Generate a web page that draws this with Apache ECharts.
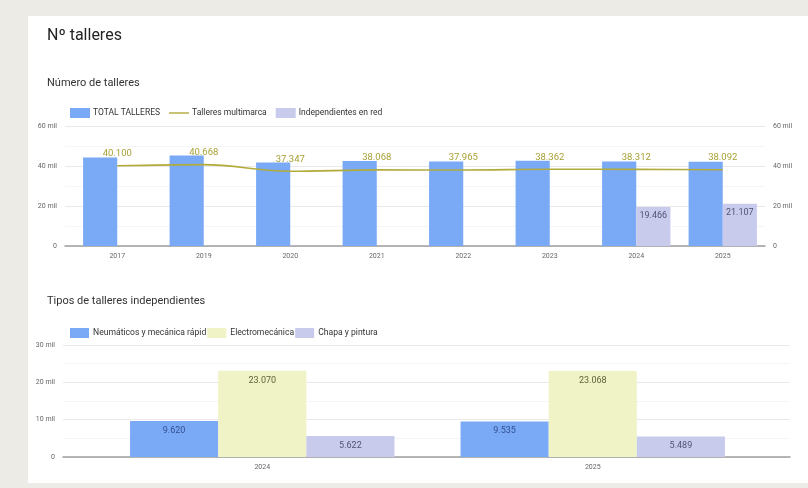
<!DOCTYPE html>
<html>
<head>
<meta charset="utf-8">
<script src="https://cdn.jsdelivr.net/npm/echarts@6/dist/echarts.min.js"></script>
<style>
  html, body { margin: 0; padding: 0; background: #ecebe6; }
  #chart { width: 808px; height: 488px; }
</style>
</head>
<body>
<div id="chart"></div>
<script>
// Número de talleres
const years = ['2017', '2019', '2020', '2021', '2022', '2023', '2024', '2025'];
const totalTalleres = [44200, 45200, 41700, 42500, 42300, 42600, 42300, 42100];
const talleresMultimarca = [40100, 40668, 37347, 38068, 37965, 38362, 38312, 38092];
const independientesRed = [null, null, null, null, null, null, 19466, 21107];

// Tipos de talleres independientes
const tipoYears = ['2024', '2025'];
const neumaticos = [9620, 9535];
const electromecanica = [23070, 23068];
const chapaPintura = [5622, 5489];

const topTicks = { min: 0, max: 60000, interval: 20000 };
const bottomTicks = { min: 0, max: 30000, interval: 10000 };

const BLUE = '#7aa9f6';
const LAVENDER = '#c8cbec';
const YELLOW = '#eff3c5';
const OLIVE = '#b2ab3a';
const FONT = 'Roboto, "Noto Sans", sans-serif';

const fmtMil = v => (v === 0 ? '0' : (v / 1000) + ' mil');
const fmtNum = v => {
  const n = typeof v === 'object' ? v.value : v;
  return String(Math.round(n)).replace(/\B(?=(\d{3})+(?!\d))/g, '.');
};

const tickLabel = { fontSize: 7, color: '#666', fontFamily: FONT };

function valueAxisBackground(gridIndex, ticks, position, withLines) {
  return {
    type: 'value', gridIndex: gridIndex, position: position,
    min: ticks.min, max: ticks.max, interval: ticks.interval,
    axisLine: { show: false }, axisTick: { show: false },
    axisLabel: Object.assign({ formatter: fmtMil, margin: 8 }, tickLabel),
    splitLine: { show: withLines, lineStyle: { color: '#e9e9e9', width: 1 } },
    minorTick: { show: false, splitNumber: 2 },
    minorSplitLine: { show: withLines, lineStyle: { color: '#f5f5f5', width: 1 } }
  };
}
function hiddenValueAxis(gridIndex, ticks) {
  return {
    type: 'value', gridIndex: gridIndex,
    min: ticks.min, max: ticks.max, interval: ticks.interval,
    show: false, splitLine: { show: false }
  };
}
function baselineAxis(gridIndex) {
  return {
    type: 'value', gridIndex: gridIndex, min: 0, max: 1,
    axisLine: { show: true, lineStyle: { color: '#9e9e9e', width: 1.5 } },
    axisTick: { show: false }, axisLabel: { show: false }, splitLine: { show: false }
  };
}
function categoryAxis(gridIndex, data) {
  return {
    type: 'category', gridIndex: gridIndex, data: data,
    axisLine: { show: false }, axisTick: { show: false },
    axisLabel: Object.assign({ margin: 7 }, tickLabel)
  };
}

const chart = echarts.init(document.getElementById('chart'), null, { renderer: 'canvas' });

chart.setOption({
  backgroundColor: 'transparent',
  animation: false,
  textStyle: { fontFamily: FONT },
  graphic: [
    { type: 'rect', z: -10, shape: { x: 28, y: 16, width: 780, height: 467 },
      style: { fill: '#ffffff' } }
  ],
  title: [
    { text: 'Nº talleres', left: 42, top: 23,
      textStyle: { fontSize: 16, fontWeight: 'normal', color: '#222', fontFamily: FONT } },
    { text: 'Número de talleres', left: 42, top: 73,
      textStyle: { fontSize: 11, fontWeight: 'normal', color: '#333', fontFamily: FONT } },
    { text: 'Tipos de talleres independientes', left: 42, top: 291,
      textStyle: { fontSize: 11, fontWeight: 'normal', color: '#333', fontFamily: FONT } }
  ],
  legend: [
    {
      left: 65, top: 103, itemWidth: 20, itemHeight: 10, itemGap: 9,
      textStyle: { fontSize: 8.5, color: '#333', fontFamily: FONT, padding: [0, 0, 0, -2] },
      data: [
        { name: 'TOTAL TALLERES', icon: 'rect' },
        { name: 'Talleres multimarca', icon: 'path://M0,4.3 H20 V5.7 H0 Z' },
        { name: 'Independientes en red', icon: 'rect' }
      ]
    },
    {
      left: 65, top: 323, itemWidth: 19, itemHeight: 10, itemGap: 1,
      textStyle: { fontSize: 8.6, color: '#333', fontFamily: FONT, padding: [0, 0, 0, -1] },
      data: [
        { name: 'Neumáticos y mecánica rápid', icon: 'rect' },
        { name: 'Electromecánica', icon: 'rect' },
        { name: 'Chapa y pintura', icon: 'rect' }
      ]
    }
  ],
  grid: [
    { left: 65, right: 43, top: 126, height: 120 },   // 0: top gridlines + axes
    { left: 74, right: 42, top: 126, height: 120 },   // 1: top marks
    { left: 63, right: 18, top: 345, height: 112 },   // 2: bottom gridlines + axis
    { left: 97, right: 50, top: 345, height: 112 }    // 3: bottom marks
  ],
  xAxis: [
    baselineAxis(0),
    categoryAxis(1, years),
    baselineAxis(2),
    categoryAxis(3, tipoYears)
  ],
  yAxis: [
    valueAxisBackground(0, topTicks, 'left', true),     // 0
    valueAxisBackground(0, topTicks, 'right', false),   // 1
    hiddenValueAxis(1, topTicks),                        // 2
    valueAxisBackground(2, bottomTicks, 'left', true),  // 3
    hiddenValueAxis(3, bottomTicks)                      // 4
  ],
  series: [
    {
      name: 'TOTAL TALLERES', type: 'bar', xAxisIndex: 1, yAxisIndex: 2,
      data: totalTalleres, barGap: '0%', barCategoryGap: '21%',
      itemStyle: { color: BLUE }
    },
    {
      name: 'Independientes en red', type: 'bar', xAxisIndex: 1, yAxisIndex: 2,
      data: independientesRed, barGap: '0%', barCategoryGap: '21%',
      itemStyle: { color: LAVENDER },
      label: { show: true, position: 'insideTop', distance: 4, formatter: fmtNum,
        fontSize: 9, color: '#4f5476', fontFamily: FONT }
    },
    {
      name: 'Talleres multimarca', type: 'line', xAxisIndex: 1, yAxisIndex: 2,
      data: talleresMultimarca, smooth: 0.35, z: 5,
      symbol: 'circle', symbolSize: 0, showSymbol: true,
      lineStyle: { color: OLIVE, width: 1.6 },
      itemStyle: { color: OLIVE },
      label: { show: true, position: 'top', distance: 7, formatter: fmtNum,
        fontSize: 9.5, color: '#a8a136', fontFamily: FONT }
    },
    {
      name: 'Neumáticos y mecánica rápid', type: 'bar', xAxisIndex: 3, yAxisIndex: 4,
      data: neumaticos, barGap: '0%', barCategoryGap: '20%',
      itemStyle: { color: BLUE },
      label: { show: true, position: 'insideTop', distance: 5, formatter: fmtNum,
        fontSize: 9, color: '#34508f', fontFamily: FONT }
    },
    {
      name: 'Electromecánica', type: 'bar', xAxisIndex: 3, yAxisIndex: 4,
      data: electromecanica, barGap: '0%', barCategoryGap: '20%',
      itemStyle: { color: YELLOW },
      label: { show: true, position: 'insideTop', distance: 5, formatter: fmtNum,
        fontSize: 9, color: '#5f5f38', fontFamily: FONT }
    },
    {
      name: 'Chapa y pintura', type: 'bar', xAxisIndex: 3, yAxisIndex: 4,
      data: chapaPintura, barGap: '0%', barCategoryGap: '20%',
      itemStyle: { color: LAVENDER },
      label: { show: true, position: 'insideTop', distance: 5, formatter: fmtNum,
        fontSize: 9, color: '#4f5476', fontFamily: FONT }
    }
  ]
});
</script>
</body>
</html>
